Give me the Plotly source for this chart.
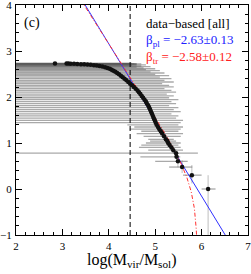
import numpy as np
import plotly.graph_objects as go

# ---- data ----
log_n = [2.730, 2.728, 2.726, 2.724, 2.721, 2.718, 2.714, 2.710, 2.705, 2.699,
         2.692, 2.684, 2.674, 2.662, 2.648, 2.632, 2.614, 2.594, 2.572, 2.548,
         2.522, 2.494, 2.464, 2.432, 2.398, 2.362, 2.326, 2.290, 2.254, 2.218,
         2.180, 2.142, 2.104, 2.064, 2.024, 1.984, 1.942, 1.900, 1.858, 1.814,
         1.770, 1.726, 1.680, 1.634, 1.588, 1.540, 1.492, 1.444, 1.396, 1.348,
         1.300, 1.255, 1.204, 1.146, 1.079, 1.041, 1.000, 0.954, 0.903, 0.845,
         0.778, 0.699, 0.602, 0.477, 0.301, 0.000]
log_m = [2.84, 3.09, 3.13, 3.18, 3.25, 3.32, 3.40, 3.47, 3.54, 3.61,
         3.68, 3.74, 3.80, 3.86, 3.92, 3.97, 4.02, 4.06, 4.10, 4.14,
         4.18, 4.22, 4.26, 4.30, 4.34, 4.38, 4.42, 4.46, 4.50, 4.54,
         4.58, 4.62, 4.65, 4.68, 4.71, 4.74, 4.77, 4.80, 4.82, 4.85,
         4.87, 4.89, 4.91, 4.93, 4.95, 4.97, 4.99, 5.01, 5.03, 5.06,
         5.09, 5.12, 5.15, 5.19, 5.23, 5.26, 5.28, 5.31, 5.35, 5.39,
         5.45, 5.46, 5.49, 5.58, 5.79, 6.14]
m_low = [-1.0] * 48 + [4.40, 4.55, 4.45, 4.70, 4.60, 4.75, 4.85, 4.89, 4.80, 4.70,
                       4.65, 4.85, -1.0, 4.68, 5.00, 5.30, 5.60, 6.00]
m_high = [4.45, 4.50, 4.60, 4.40, 4.55, 4.70, 4.50, 4.60, 4.45, 4.80,
          4.60, 4.50, 4.70, 4.90, 4.60, 4.75, 5.00, 4.80, 5.10, 4.90,
          5.20, 5.00, 5.30, 5.10, 5.35, 5.20, 5.40, 5.15, 5.30, 5.40,
          5.20, 5.35, 5.45, 5.25, 5.40, 5.30, 5.50, 5.35, 5.45, 5.30,
          5.50, 5.40, 5.55, 5.35, 5.50, 5.45, 5.60, 5.55, 5.50, 5.60,
          5.55, 5.50, 5.60, 5.55, 5.40, 5.45, 5.55, 5.50, 5.55, 5.60,
          5.92, 5.54, 5.70, 5.80, 6.00, 6.30]
n_err_up = [0.0] * 57 + [0.05, 0.06, 0.07, 0.08, 0.09, 0.11, 0.15, 0.22, 0.30]
n_err_dn = [0.0] * 57 + [0.05, 0.06, 0.07, 0.09, 0.10, 0.13, 0.13, 0.18, 5.0]

# fits
pl_intercept, pl_slope = 9.78, -1.656
tr_norm, tr_slope, tr_cut = 0.14, 1.58, 5.91
cut_line_x = 4.46

# ---- figure ----
lm = np.array(log_m)
err_plus = np.array(m_high) - lm
err_minus = lm - np.array(m_low)

fig = go.Figure()

fig.add_trace(go.Scatter(
    x=log_m, y=log_n, mode="markers",
    marker=dict(size=0.1, color="rgba(0,0,0,0)"),
    error_x=dict(type="data", symmetric=False, array=err_plus, arrayminus=err_minus,
                 color="rgba(90,90,90,0.52)", thickness=1.3, width=0),
    error_y=dict(type="data", symmetric=False, array=n_err_up, arrayminus=n_err_dn,
                 color="rgba(110,110,110,0.45)", thickness=1, width=0),
    showlegend=False, hoverinfo="skip"))

fig.add_trace(go.Scatter(
    x=[cut_line_x, cut_line_x], y=[-1, 4], mode="lines",
    line=dict(color="black", width=1, dash="5px,3px"), showlegend=False, hoverinfo="skip"))

xb = np.linspace(3.45, 6.55, 200)
fig.add_trace(go.Scatter(
    x=xb, y=pl_intercept + pl_slope * xb, mode="lines",
    line=dict(color="#3030ff", width=1), showlegend=False, hoverinfo="skip"))

xr = np.linspace(3.4, tr_cut - 0.0005, 400)
yr = tr_norm + np.log10(10 ** (tr_slope * (tr_cut - xr)) - 1)
fig.add_trace(go.Scatter(
    x=xr, y=yr, mode="lines",
    line=dict(color="#ff3030", width=1, dash="4px,2px,1px,2px"), showlegend=False,
    hoverinfo="skip"))

fig.add_trace(go.Scatter(
    x=log_m, y=log_n, mode="markers",
    marker=dict(size=4.5, color="#111111", line=dict(width=0)),
    showlegend=False, hoverinfo="skip"))

serif = "Times New Roman, Liberation Serif, serif"
axis_common = dict(showline=True, linecolor="black", linewidth=1, mirror="allticks",
                   ticks="inside", ticklen=6, tickwidth=1, tickcolor="black",
                   showgrid=False, zeroline=False, automargin=False,
                   tickmode="linear", dtick=1, ticklabelstandoff=1,
                   ticklabeloverflow="allow",
                   tickfont=dict(family=serif, size=11, color="black"),
                   minor=dict(ticks="inside", ticklen=3, dtick=0.2, tickcolor="black",
                              tickwidth=1, showgrid=False))

fig.update_xaxes(range=[2, 7], tick0=2, **axis_common)
fig.update_yaxes(range=[-1, 4], tick0=-1, **axis_common)

fig.add_annotation(xref="paper", yref="paper", x=0.5, y=-0.112,
                   text="log(M<sub>vir</sub>/M<sub>sol</sub>)", showarrow=False,
                   yanchor="middle", font=dict(family=serif, size=16, color="black"))
fig.add_annotation(x=2.13, y=3.61, text="(c)", showarrow=False, xanchor="left",
                   font=dict(family=serif, size=14, color="black"))
fig.add_annotation(x=4.76, y=3.59, text="data−based [all]", showarrow=False, xanchor="left",
                   font=dict(family=serif, size=13, color="black"))
fig.add_annotation(x=4.76, y=3.22, text="β<sub>pl</sub> = −2.63±0.13", showarrow=False,
                   xanchor="left", font=dict(family=serif, size=13, color="#2020ff"))
fig.add_annotation(x=4.76, y=2.86, text="β<sub>tr</sub> = −2.58±0.12", showarrow=False,
                   xanchor="left", font=dict(family=serif, size=13, color="#ff2020"))

fig.update_layout(width=251, height=274, margin=dict(l=16, r=3, t=5, b=39),
                  paper_bgcolor="white", plot_bgcolor="white", hovermode=False)

fig.write_html(
    "out.html",
    config={"displayModeBar": False, "staticPlot": True},
    post_script=("document.documentElement.style.margin='0';"
                 "document.documentElement.style.padding='0';"
                 "document.body.style.margin='0';document.body.style.padding='0';"
                 "document.body.style.overflow='hidden';window.scrollTo(0,0);"))
